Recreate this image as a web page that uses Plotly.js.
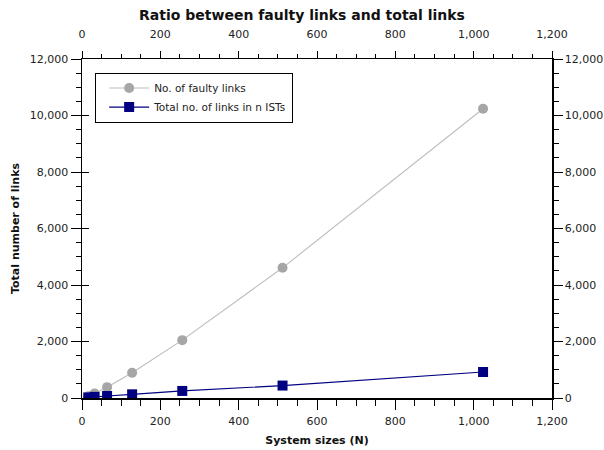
<!DOCTYPE html>
<html>
<head>
<meta charset="utf-8">
<script src="https://cdn.plot.ly/plotly-3.0.1.min.js"></script>
<style>html,body{margin:0;padding:0;background:#fff;}#chart{width:604px;height:450px;}</style>
</head>
<body>
<div id="chart"></div>
<script>
const systemSizes = [16, 32, 64, 128, 256, 512, 1024];
const faultyLinks = [64, 160, 384, 896, 2048, 4608, 10240];
const totalLinksISTs = [20, 40, 70, 130, 250, 440, 920];
const seriesNames = ["No. of faulty links", "Total no. of links in n ISTs"];
const chartTitle = "Ratio between faulty links and total links";
const xTitle = "System sizes (N)";
const yTitle = "Total number of links";

const font = "DejaVu Sans, sans-serif";
const traces = [
  {x: systemSizes, y: faultyLinks, name: seriesNames[0], type: "scatter", mode: "lines+markers",
   line: {color: "#bdbdbd", width: 1.1}, marker: {symbol: "circle", size: 10, color: "#a6a6a6"},
   xaxis: "x", yaxis: "y"},
  {x: systemSizes, y: totalLinksISTs, name: seriesNames[1], type: "scatter", mode: "lines+markers",
   line: {color: "#000080", width: 1.2}, marker: {symbol: "square", size: 10, color: "#000080"},
   xaxis: "x", yaxis: "y"},
  {x: [], y: [], xaxis: "x2", yaxis: "y2", showlegend: false, hoverinfo: "skip"},
  {x: [], y: [], xaxis: "x", yaxis: "y3", showlegend: false, hoverinfo: "skip"}
];

const common = {showgrid: false, zeroline: false, showline: true, linecolor: "#000", linewidth: 1.5,
  ticks: "outside", tickcolor: "#000", tickwidth: 1, tickformat: ",d",
  tickfont: {family: font, size: 11, color: "#222"}};

const xCommon = Object.assign({}, common, {range: [0, 1200], dtick: 200, tick0: 0, ticklen: 10,
  minor: {dtick: 50, ticks: "outside", ticklen: 6, tickcolor: "#000", tickwidth: 1, showgrid: false}});
const yCommon = Object.assign({}, common, {range: [0, 12000], dtick: 2000, tick0: 0, ticklen: 10,
  minor: {dtick: 500, ticks: "outside", ticklen: 5, tickcolor: "#000", tickwidth: 1, showgrid: false}});

const layout = {
  width: 604, height: 450,
  margin: {l: 82, r: 52, t: 59, b: 52},
  paper_bgcolor: "#fff", plot_bgcolor: "#fff",
  font: {family: font, size: 11, color: "#222"},
  title: {text: chartTitle, x: 0.5, xanchor: "center", y: 0.966, yanchor: "middle",
    font: {family: font, size: 14, color: "#111", weight: "bold"}},
  xaxis: Object.assign({}, xCommon, {side: "bottom", ticklabelstandoff: 2,
    title: {text: xTitle, standoff: 9, font: {family: font, size: 11, color: "#111", weight: "bold"}}}),
  xaxis2: Object.assign({}, xCommon, {side: "top", overlaying: "x", anchor: "y", ticklen: 7, ticklabelstandoff: 8,
    minor: {dtick: 50, ticks: "outside", ticklen: 4, tickcolor: "#000", tickwidth: 1, showgrid: false}}),
  yaxis: Object.assign({}, yCommon, {side: "left",
    title: {text: yTitle, standoff: 8, font: {family: font, size: 11, color: "#111", weight: "bold"}}}),
  yaxis2: Object.assign({}, yCommon, {side: "right", overlaying: "y", anchor: "x", ticklen: 9}),
  yaxis3: {range: [0, 12000], overlaying: "y", side: "left", anchor: "x", showgrid: false, zeroline: false,
    showline: false, ticks: "inside", ticklen: 7, tickcolor: "#000", tickwidth: 1, dtick: 2000, tick0: 0,
    showticklabels: false},
  showlegend: true,
  legend: {x: 0.028, y: 0.96, xanchor: "left", yanchor: "top", bgcolor: "#fff",
    bordercolor: "#000", borderwidth: 1, font: {family: font, size: 10.5, color: "#222"},
    tracegroupgap: 0, itemwidth: 40, indentation: 8, entrywidth: 200, entrywidthmode: "pixels"}
};

Plotly.newPlot("chart", traces, layout, {displayModeBar: false, staticPlot: true});
</script>
</body>
</html>
